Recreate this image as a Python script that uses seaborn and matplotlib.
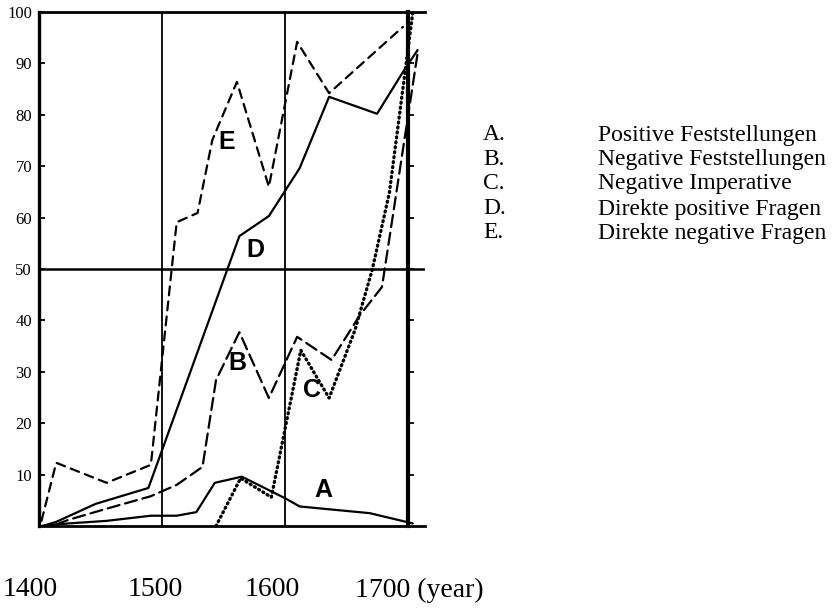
import numpy as np
import pandas as pd
import matplotlib
matplotlib.use("Agg")
import matplotlib.pyplot as plt
import seaborn as sns

# curve vertices (year, percent)
a_years = [1402, 1424, 1455, 1491, 1512, 1528, 1543, 1565, 1601, 1612, 1669, 1704]
a_vals = [0, 0.5, 1, 2, 2, 2.7, 8.4, 9.6, 5.3, 3.8, 2.5, 0.5]

b_years = [1414, 1424, 1454, 1491, 1512, 1533, 1544, 1563, 1587, 1610, 1638, 1661, 1679, 1708]
b_vals = [0.3, 1.2, 3.3, 5.8, 8.0, 11.5, 28.4, 37.7, 24.9, 36.8, 32.3, 41, 46.5, 92]

c_years = [1544, 1564, 1589, 1613, 1636, 1657, 1671, 1685, 1704]
c_vals = [0, 9.3, 5.6, 34.2, 24.9, 38.1, 49.8, 64.8, 99.8]

d_years = [1403, 1414, 1446, 1489, 1563, 1587, 1612, 1636, 1675, 1696, 1708]
d_vals = [0, 0.8, 4.3, 7.4, 56.4, 60.3, 69.6, 83.5, 80.2, 88.3, 92.6]

e_years = [1402, 1414, 1455, 1491, 1512, 1529, 1541, 1561, 1587, 1610, 1636, 1696]
e_vals = [1, 12.3, 8.4, 11.9, 59.1, 60.9, 75.1, 86.4, 66, 94.2, 84.2, 97.1]

curve_keys = ["A", "B", "C", "D", "E"]
curve_names = ["Positive Feststellungen", "Negative Feststellungen",
               "Negative Imperative", "Direkte positive Fragen",
               "Direkte negative Fragen"]
y_ticks = [10, 20, 30, 40, 50, 60, 70, 80, 90, 100]
year_labels = ["1400", "1500", "1600", "1700 (year)"]

# where the curve letters sit inside the plot
letter_pos = {"A": (1631, 7), "B": (1561, 31.7), "C": (1622, 26.5),
              "D": (1576, 53.7), "E": (1553, 74.7)}

frames = []
for key, xs, ys in zip(curve_keys,
                       [a_years, b_years, c_years, d_years, e_years],
                       [a_vals, b_vals, c_vals, d_vals, e_vals]):
    frames.append(pd.DataFrame({"year": xs, "pct": ys, "curve": key}))
df = pd.concat(frames, ignore_index=True)

sns.set_theme(style="white")
plt.rcParams["font.family"] = ["Liberation Serif", "DejaVu Serif"]
plt.rcParams["text.color"] = "black"
plt.rcParams["lines.dash_capstyle"] = "round"

fig = plt.figure(figsize=(8.33, 6.08), dpi=100)
ax = fig.add_axes([39 / 833, 1 - 526 / 608, 386 / 833, 514 / 608])

dashes = {"A": "", "B": (5.5, 2.6), "C": (0.3, 1.2), "D": "", "E": (4.0, 2.8)}
sns.lineplot(data=df, x="year", y="pct", style="curve", dashes=dashes,
             units="curve", estimator=None, sort=False, color="black",
             linewidth=1.6, legend=False, ax=ax)
for line in ax.get_lines():
    line.set_clip_on(False)
    xd = np.asarray(line.get_xdata())
    if len(xd) == len(c_years) and np.allclose(xd, c_years):
        line.set_linewidth(2.4)

ax.set_xlim(1400, 1714)
ax.set_ylim(0, 100)

# frame: heavy left, top and bottom; no right edge
ax.spines["right"].set_visible(False)
ax.spines["left"].set_linewidth(2.4)
ax.spines["top"].set_linewidth(2.0)
ax.spines["bottom"].set_linewidth(2.0)
for s in ["left", "top", "bottom"]:
    ax.spines[s].set_color("black")

# internal rulings
ax.axvline(1500, color="black", lw=1.3)
ax.axvline(1600, color="black", lw=1.3)
ax.axhline(50, color="black", lw=1.8)

ax.set_xticks([])
ax.set_yticks(y_ticks)
ax.set_yticklabels([str(v) for v in y_ticks], fontsize=12)
ax.tick_params(axis="y", direction="in", length=4, width=1.3, pad=5,
               left=True, colors="black")
ax.set_xlabel("")
ax.set_ylabel("")

# thick 1700 line carrying its own tick marks
loc = (1700 - 1400) / (1714 - 1400)
sec = ax.secondary_yaxis(loc)
sec.spines["right"].set_linewidth(3.0)
sec.spines["right"].set_color("black")
sec.set_yticks(y_ticks[:-1])
sec.tick_params(direction="out", length=4, width=1.3, labelright=False,
                colors="black")

for key, (x, y) in letter_pos.items():
    ax.text(x, y, key, fontsize=18, fontweight="bold", ha="center", va="center",
            color="black", family=["Liberation Sans", "DejaVu Sans"])

# year captions under the plot
year_px = [30, 155, 272, 355]
year_ha = ["center", "center", "center", "left"]
for lab, px, ha in zip(year_labels, year_px, year_ha):
    fig.text(px / 833, 1 - 590 / 608, lab, fontsize=20, ha=ha, va="center")

# key to the curves
row_px = [135, 160, 184, 209, 233]
for key, name, py in zip(curve_keys, curve_names, row_px):
    fig.text(483 / 833, 1 - py / 608, key + ".", fontsize=17, va="center")
    fig.text(598 / 833, 1 - py / 608, name, fontsize=17, va="center")

fig.savefig("out.png", dpi=100)
